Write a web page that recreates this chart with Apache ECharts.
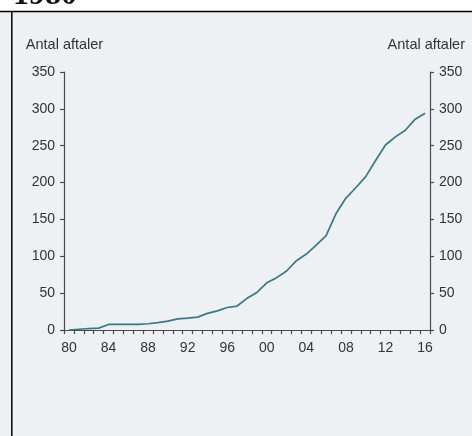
<!DOCTYPE html>
<html>
<head>
<meta charset="utf-8">
<script src="https://cdn.jsdelivr.net/npm/echarts@6/dist/echarts.min.js"></script>
<style>
  html, body { margin: 0; padding: 0; background: #ffffff; }
  #chart { width: 472px; height: 436px; }
</style>
</head>
<body>
<div id="chart"></div>
<script>
const titleText = '1980';
const axisName = 'Antal aftaler';
const years = [1980,1981,1982,1983,1984,1985,1986,1987,1988,1989,1990,1991,1992,1993,1994,1995,1996,1997,1998,1999,2000,2001,2002,2003,2004,2005,2006,2007,2008,2009,2010,2011,2012,2013,2014,2015,2016];
const agreements = [0,1,2,2.5,7.5,7.5,7.5,7.5,8.5,10,12,15,16,17.5,22.5,26,30.5,32.5,43,51,64,71,80,94,103,115,128,158,179,193,208,230,251,262,271,286,294];
const yTicks = [0, 50, 100, 150, 200, 250, 300, 350];

const chart = echarts.init(document.getElementById('chart'), null, { renderer: 'canvas' });
const textColor = '#333333';
const axisColor = '#4a4a4a';
const font = 'Liberation Sans, Arial, sans-serif';

function yAxisDef(pos) {
  return {
    type: 'value',
    position: pos,
    min: yTicks[0],
    max: yTicks[yTicks.length - 1],
    interval: yTicks[1] - yTicks[0],
    axisLine: { show: true, lineStyle: { color: axisColor, width: 1.2 } },
    axisTick: { show: true, length: 4, lineStyle: { color: axisColor, width: 1.2 } },
    axisLabel: { color: textColor, fontSize: 14, fontFamily: font, margin: 9 },
    splitLine: { show: false }
  };
}

chart.setOption({
  backgroundColor: '#edf1f4',
  animation: false,
  grid: { left: 64, right: 42, top: 72, bottom: 106 },
  xAxis: {
    type: 'category',
    data: years,
    boundaryGap: true,
    axisLine: { show: true, lineStyle: { color: axisColor, width: 1.2 } },
    axisTick: { show: true, interval: 0, length: 4, lineStyle: { color: axisColor, width: 1.2 } },
    axisLabel: {
      interval: 3,
      color: textColor,
      fontSize: 14,
      fontFamily: font,
      margin: 11,
      formatter: v => String(v).slice(2)
    },
    splitLine: { show: false }
  },
  yAxis: [yAxisDef('left'), yAxisDef('right')],
  series: [{
    type: 'line',
    data: agreements,
    yAxisIndex: 0,
    symbol: 'none',
    smooth: false,
    lineStyle: { color: '#3a7882', width: 1.7 }
  }],
  graphic: [
    { type: 'rect', shape: { x: 0, y: 0, width: 472, height: 11 }, style: { fill: '#ffffff' }, z: 10 },
    { type: 'text', x: 13, y: -20, style: { text: titleText, font: 'bold 32px "Liberation Serif", "DejaVu Serif", serif', fill: '#111111', textVerticalAlign: 'top', textAlign: 'left' }, z: 11 },
    { type: 'line', shape: { x1: 0, y1: 11.5, x2: 472, y2: 11.5 }, style: { stroke: '#000000', lineWidth: 1.5 }, z: 12 },
    { type: 'line', shape: { x1: 11.8, y1: 11, x2: 11.8, y2: 436 }, style: { stroke: '#000000', lineWidth: 1.5 }, z: 12 },
    { type: 'text', x: 64.5, y: 45, style: { text: axisName, font: '14.5px "Liberation Sans", Arial, sans-serif', fill: textColor, textAlign: 'center', textVerticalAlign: 'middle' }, z: 11 },
    { type: 'text', x: 465, y: 45, style: { text: axisName, font: '14.5px "Liberation Sans", Arial, sans-serif', fill: textColor, textAlign: 'right', textVerticalAlign: 'middle' }, z: 11 }
  ]
});
</script>
</body>
</html>
